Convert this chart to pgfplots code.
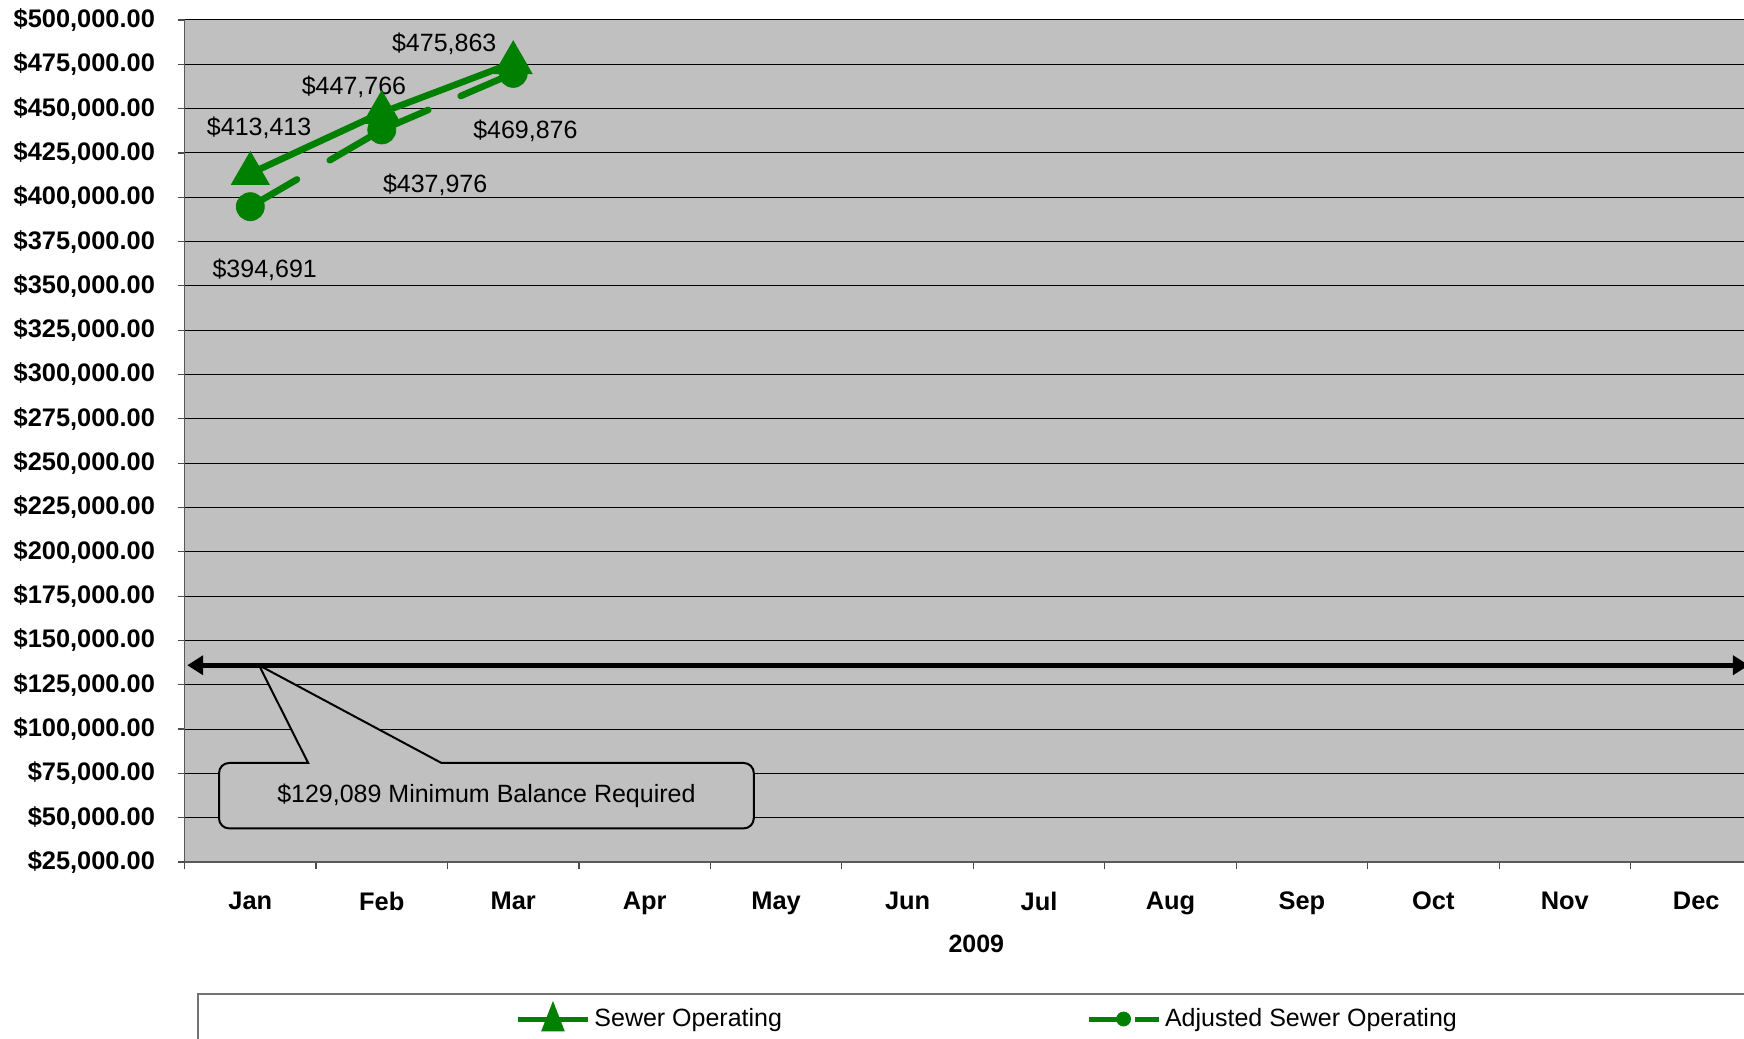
\documentclass[border=0pt]{standalone}
\usepackage{fontspec}
\setmainfont{Liberation Sans}
\usepackage{pgfplots}
\pgfplotsset{compat=1.18}
\usetikzlibrary{arrows.meta}
\definecolor{xlgreen}{RGB}{0,128,0}
\definecolor{plotbg}{RGB}{192,192,192}
\newcommand{\fnt}{\fontsize{12.5}{15}\selectfont}
\begin{document}
\begin{tikzpicture}[font=\fnt]
\useasboundingbox (-92.3pt,-88pt) rectangle (779.7pt,431pt);
\begin{axis}[
 at={(0,0)}, anchor=south west,
 scale only axis, width=788.7pt, height=421pt,
 xmin=-0.5, xmax=11.5, ymin=25000, ymax=500000,
 clip=false,
 axis x line*=bottom, axis y line*=left,
 axis line style={draw=black!65, line width=0.8pt, -},
 axis background/.style={fill=plotbg},
 ymajorgrids, grid style={black, line width=0.5pt},
 ytick distance=25000,
 scaled y ticks=false,
 yticklabel={\$\pgfmathprintnumber[assume math mode=true,fixed,fixed zerofill,precision=2,1000 sep={,}]{\tick}},
 tick label style={font=\fontsize{12.7}{15}\selectfont\bfseries},
 yticklabel style={xshift=-7.8pt},
 xtick={0,...,11},
 xticklabels={Jan,Feb,Mar,Apr,May,Jun,Jul,Aug,Sep,Oct,Nov,Dec},
 xticklabel style={yshift=-8pt},
 minor xtick={-0.5,0.5,...,11.5},
 tick align=outside,
 major tick length=3.5pt, minor tick length=3.5pt,
 tick style={black!70, line width=0.6pt},
 major x tick style={draw=none},
 xlabel={\textbf{2009}},
 x label style={at={(axis description cs:0.5,0)}, anchor=center, yshift=-41pt, xshift=1.5pt},
 legend style={at={(0.2095,-0.1865)}, anchor=west, draw=none, fill=none,
   legend columns=2, inner sep=0pt, font=\fnt,
   /tikz/every even column/.append style={column sep=150pt}},
]
% minimum balance callout
\draw[fill=plotbg, draw=black, line width=1pt]
  (axis cs:0.44,80860) -- (axis cs:0.066,136000) -- (axis cs:1.454,80860)
  [rounded corners=5pt] -- (axis cs:3.83,80860) -- (axis cs:3.83,43966)
  -- (axis cs:-0.238,43966) -- (axis cs:-0.238,80860) -- (axis cs:0.3,80860) [sharp corners] -- cycle;
\node at (axis cs:1.796,62413) {\$129,089 Minimum Balance Required};
\addplot[black, line width=2.5pt, {Triangle[length=8pt,width=9.5pt]}-{Triangle[length=8pt,width=9.5pt]}, forget plot]
  coordinates {(-0.48,136000) (11.4,136000)};
% adjusted series line segments
\addplot[xlgreen, line width=3.3pt, line cap=round, dash pattern=on 27pt off 19pt, forget plot]
  coordinates {(0,394691) (1,437976)};
\addplot[xlgreen, line width=3.3pt, line cap=round, dash pattern=on 25.3pt off 17.6pt, forget plot]
  coordinates {(1,437976) (2,469876)};
% sewer operating
\addplot[xlgreen, line width=3.3pt, mark=triangle*, mark size=8pt, mark options={solid},
  legend image code/.code={
    \draw[xlgreen, line width=2.5pt] (0pt,0pt) -- (35pt,0pt);
    \fill[xlgreen] (17.5pt,0pt) ++(0,4.5pt) -- ++(-3.5pt,-9pt) -- ++(7pt,0) -- cycle;}]
  coordinates {(0,413413) (1,447766) (2,475863)};
\addlegendentry{Sewer Operating}
% adjusted markers
\addplot[only marks, xlgreen, mark=*, mark size=7pt,
  legend image code/.code={
    \draw[xlgreen, line width=2.5pt] (0pt,0pt) -- (17.5pt,0pt);
    \draw[xlgreen, line width=2.5pt] (23pt,0pt) -- (35pt,0pt);
    \fill[xlgreen] (17.5pt,0pt) circle (3.5pt);}]
  coordinates {(0,394691) (1,437976) (2,469876)};
\addlegendentry{Adjusted Sewer Operating}
% data labels
\node[xshift=4.4pt, yshift=22.8pt] at (axis cs:0,413413) {\$413,413};
\node[xshift=-13.9pt, yshift=13pt] at (axis cs:1,447766) {\$447,766};
\node[xshift=-34.5pt, yshift=9.7pt] at (axis cs:2,475863) {\$475,863};
\node[xshift=7.2pt, yshift=-31.7pt] at (axis cs:0,394691) {\$394,691};
\node[xshift=26.7pt, yshift=-27.3pt] at (axis cs:1,437976) {\$437,976};
\node[xshift=6.1pt, yshift=-28.9pt] at (axis cs:2,469876) {\$469,876};
% legend frame
\draw[black!55, line width=0.8pt] (rel axis cs:0.0085,-0.3) rectangle (rel axis cs:1.2,-0.1568);
\end{axis}
\end{tikzpicture}
\end{document}
